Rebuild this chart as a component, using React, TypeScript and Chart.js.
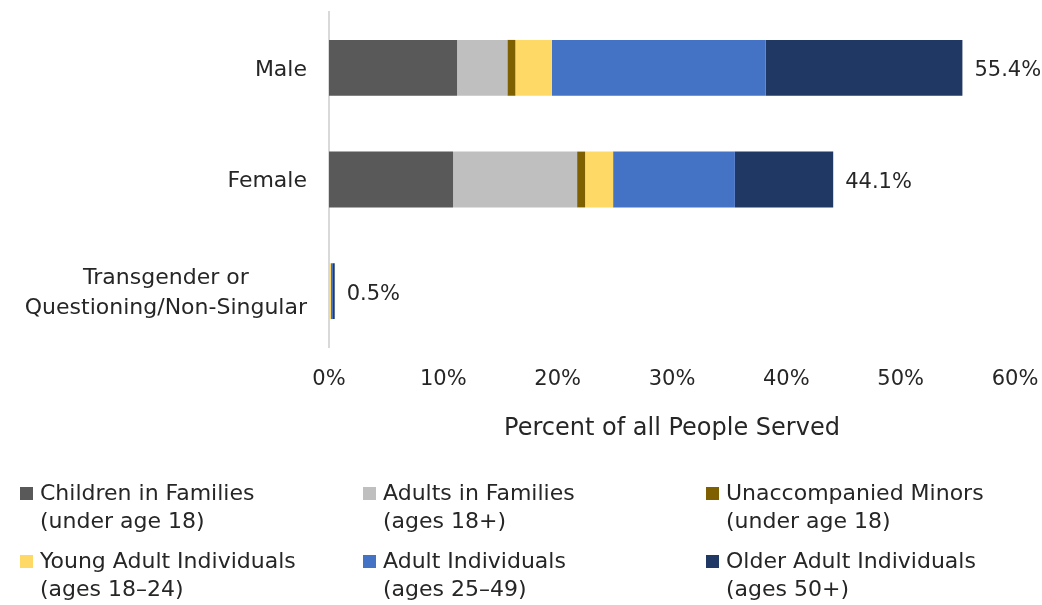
import { useEffect, useRef } from "react";
import { Chart, registerables } from "chart.js";

Chart.register(...registerables);

const categories: string[][] = [["Male"], ["Female"], ["Transgender or", "Questioning/Non-Singular"]];

const seriesNames: string[][] = [
  ["Children in Families", "(under age 18)"],
  ["Adults in Families", "(ages 18+)"],
  ["Unaccompanied Minors", "(under age 18)"],
  ["Young Adult Individuals", "(ages 18–24)"],
  ["Adult Individuals", "(ages 25–49)"],
  ["Older Adult Individuals", "(ages 50+)"],
];

const seriesColors = ["#595959", "#BFBFBF", "#7F6000", "#FFD966", "#4472C4", "#203864"];

const childrenInFamilies = [11.2, 10.85, 0];
const adultsInFamilies = [4.4, 10.85, 0];
const unaccompaniedMinors = [0.7, 0.7, 0];
const youngAdultIndividuals = [3.2, 2.45, 0.17];
const adultIndividuals = [18.7, 10.65, 0.18];
const olderAdultIndividuals = [17.2, 8.6, 0.15];

const totalLabels = ["55.4%", "44.1%", "0.5%"];
const xTickValues = [0, 10, 20, 30, 40, 50, 60];
const xTitle = "Percent of all People Served";

const seriesValues = [
  childrenInFamilies,
  adultsInFamilies,
  unaccompaniedMinors,
  youngAdultIndividuals,
  adultIndividuals,
  olderAdultIndividuals,
];

const FONT = "'DejaVu Sans', sans-serif";
const TEXT = "#262626";

export default function App() {
  const ref = useRef<HTMLCanvasElement | null>(null);

  useEffect(() => {
    if (!ref.current) return;

    const overlay = {
      id: "overlay",
      afterDraw(chart: any) {
        const ctx = chart.ctx;
        const area = chart.chartArea;
        const yScale = chart.scales.y;
        const xScale = chart.scales.x;
        ctx.save();
        ctx.fillStyle = TEXT;
        ctx.font = `22px ${FONT}`;
        ctx.textBaseline = "middle";

        // category labels (block right-aligned, lines centered)
        categories.forEach((lines, i) => {
          const cy = yScale.getPixelForValue(i);
          const widths = lines.map((l) => ctx.measureText(l).width);
          const bw = Math.max(...widths);
          const right = area.left - 22;
          const cx = right - bw / 2;
          ctx.textAlign = "center";
          lines.forEach((l, j) => {
            const ly = cy + (j - (lines.length - 1) / 2) * 30 + 2;
            ctx.fillText(l, cx, ly);
          });
        });

        // total labels
        ctx.font = `21px ${FONT}`;
        ctx.textAlign = "left";
        categories.forEach((_, i) => {
          let sum = 0;
          chart.data.datasets.forEach((ds: any) => (sum += ds.data[i]));
          const px = xScale.getPixelForValue(sum) + 12;
          const py = yScale.getPixelForValue(i) + 3;
          ctx.fillText(totalLabels[i], px, py);
        });

        // legend
        ctx.font = `22px ${FONT}`;
        const colX = [20, 363, 706];
        const rowY = [494, 562];
        chart.data.datasets.forEach((ds: any, i: number) => {
          const col = i % 3;
          const row = Math.floor(i / 3);
          const x = colX[col];
          const y = rowY[row];
          ctx.fillStyle = ds.backgroundColor;
          ctx.fillRect(x, y - 7, 13, 13);
          ctx.fillStyle = TEXT;
          ctx.textAlign = "left";
          seriesNames[i].forEach((line, j) => {
            ctx.fillText(line, x + 20, y + j * 28);
          });
        });
        ctx.restore();
      },
    };

    const chart = new Chart(ref.current, {
      type: "bar",
      data: {
        labels: categories.map((c) => c.join(" ")),
        datasets: seriesValues.map((vals, i) => ({
          label: seriesNames[i].join(" "),
          data: vals,
          backgroundColor: seriesColors[i],
          borderWidth: 0,
          barPercentage: 0.5,
          categoryPercentage: 1,
        })),
      },
      options: {
        indexAxis: "y",
        responsive: false,
        animation: false,
        layout: { padding: { top: 12, right: 27, bottom: 162, left: 0 } },
        plugins: {
          legend: { display: false },
          tooltip: { enabled: false },
        },
        scales: {
          x: {
            stacked: true,
            min: 0,
            max: 60,
            afterBuildTicks: (s: any) => {
              s.ticks = xTickValues.map((v) => ({ value: v }));
            },
            afterFit: (s: any) => {
              s.height = 96;
              s.paddingLeft = 0;
              s.paddingRight = 0;
            },
            grid: { display: false, drawTicks: false },
            border: { display: false },
            ticks: {
              padding: 20,
              color: TEXT,
              font: { family: FONT, size: 21 },
              callback: (v: any) => `${v}%`,
              maxRotation: 0,
            },
            title: {
              display: true,
              text: xTitle,
              color: TEXT,
              font: { family: FONT, size: 24 },
              padding: { top: 0, bottom: 0 },
            },
          },
          y: {
            stacked: true,
            afterFit: (s: any) => {
              s.width = 329;
            },
            grid: { display: false, drawTicks: false },
            border: { display: true, color: "#D9D9D9", width: 2 },
            ticks: { display: false },
          },
        },
      },
      plugins: [overlay],
    });

    return () => chart.destroy();
  }, []);

  return (
    <div style={{ position: "absolute", left: 0, top: 0, width: 1042, height: 605, background: "#fff" }}>
      <canvas ref={ref} width={1042} height={605} />
    </div>
  );
}
